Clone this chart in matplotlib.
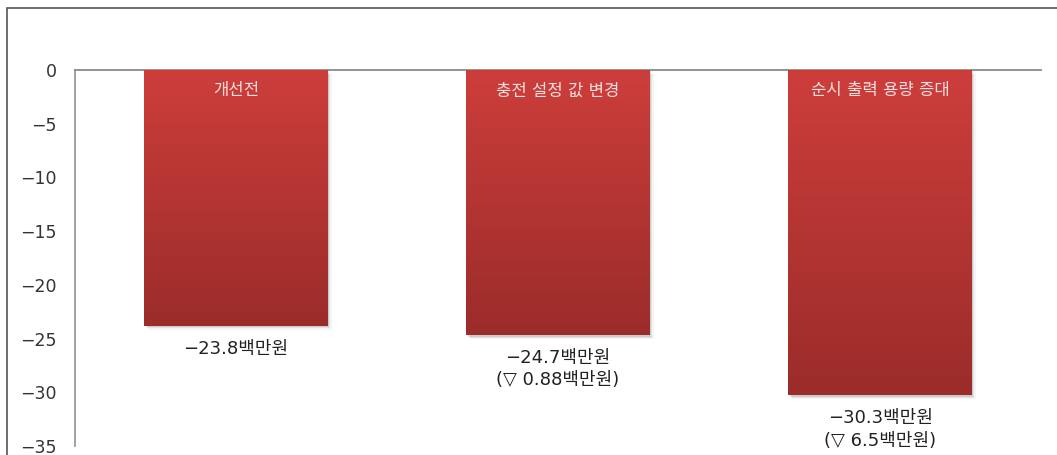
import matplotlib
matplotlib.use("Agg")
import matplotlib.pyplot as plt
import numpy as np
from matplotlib.patches import Rectangle
from matplotlib.colors import LinearSegmentedColormap

plt.rcParams['font.family'] = ['DejaVu Sans', 'Noto Sans CJK KR']

categories = ["개선전", "충전 설정 값 변경", "순시 출력 용량 증대"]
values = [-23.8, -24.7, -30.3]
value_labels = ["−23.8백만원", "−24.7백만원", "−30.3백만원"]
change_labels = ["", "(▽ 0.88백만원)", "(▽ 6.5백만원)"]
yticks = [0, -5, -10, -15, -20, -25, -30, -35]
ytick_labels = ["0", "−5", "−10", "−15", "−20", "−25", "−30", "−35"]

fig = plt.figure(figsize=(10.57, 4.55), dpi=100)
ax = fig.add_axes([0.071, 0.0198, 0.914, 0.8264])

# outer frame of the chart area
fig.add_artist(Rectangle((7 / 1057, -0.05), 1.2, 1 - 7.5 / 455 + 0.05,
                         transform=fig.transFigure, fill=False,
                         edgecolor="#555555", linewidth=1.2))

x = np.arange(len(categories))
width = 0.57
bars = ax.bar(x, values, width=width, color="none", edgecolor="none", zorder=3)

grad = LinearSegmentedColormap.from_list("barred", ["#9b2c2a", "#cd3e3b"])
gimg = np.linspace(0, 1, 256).reshape(-1, 1)

for b, v in zip(bars, values):
    x0 = b.get_x()
    w = b.get_width()
    # soft shadow beneath each bar
    for i, a in enumerate([0.10, 0.07, 0.04]):
        off = 0.004 * (i + 1)
        ax.add_patch(Rectangle((x0 + off, v - 0.12 * (i + 1)), w, -v,
                               facecolor="black", alpha=a, edgecolor="none", zorder=2))
    im = ax.imshow(gimg, extent=(x0, x0 + w, v, 0), origin="lower", cmap=grad,
                   aspect="auto", interpolation="bilinear", zorder=3)
    im.set_clip_path(b)

for xi, cat in zip(x, categories):
    ax.text(xi, -1.9, cat, ha="center", va="center", color="#f7e0e0",
            fontsize=12, zorder=5)

for xi, v, vl, cl in zip(x, values, value_labels, change_labels):
    ax.annotate(vl, (xi, v), xytext=(0, -16.5), textcoords="offset points",
                ha="center", va="center", fontsize=13, color="#222222")
    if cl:
        ax.annotate(cl, (xi, v), xytext=(0, -32.5), textcoords="offset points",
                    ha="center", va="center", fontsize=13, color="#222222",
                    annotation_clip=False)

ax.set_xlim(-0.5, len(categories) - 0.5)
ax.set_ylim(-35, 0)
ax.set_yticks(yticks)
ax.set_yticklabels(ytick_labels, fontsize=12.5, color="#333333")
ax.set_xticks([])
ax.tick_params(axis="y", length=0, pad=13)

for s in ["right", "bottom"]:
    ax.spines[s].set_visible(False)
ax.spines["left"].set_color("#9a9a9a")
ax.spines["top"].set_color("#8a8a8a")
ax.spines["left"].set_linewidth(1.3)
ax.spines["top"].set_linewidth(1.3)

fig.savefig("out.png", dpi=100)
